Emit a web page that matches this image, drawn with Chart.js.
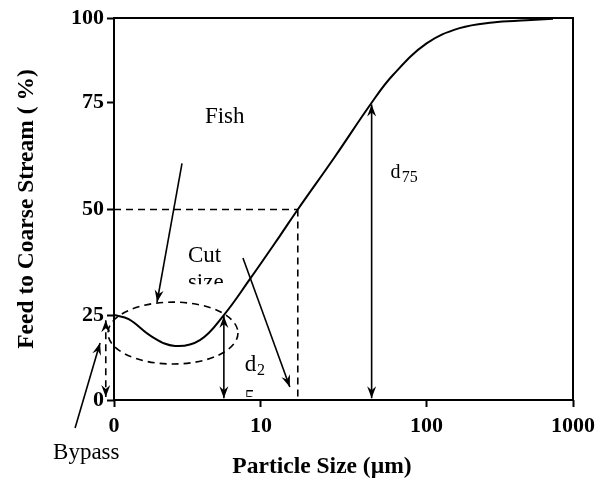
<!DOCTYPE html>
<html>
<head>
<meta charset="utf-8">
<script src="https://cdn.jsdelivr.net/npm/chart.js@4.4.0/dist/chart.umd.min.js"></script>
<style>
  html, body { margin: 0; padding: 0; background: #fff; }
</style>
</head>
<body>
<canvas id="c" width="608" height="483"></canvas>
<script>
// --- data ---
const sizes = [0, 1.0, 2.6, 4.15, 5.85, 7.48, 9.25, 13.0, 16.7, 27.9, 46.6, 62.5, 100, 168, 283, 483, 730];
const feed  = [25, 23.8, 18.6, 15.9, 17.6, 25, 33.5, 43.7, 50, 62.3, 75, 83.1, 92.5, 97.0, 98.7, 99.3, 99.8];

const xTickValues = [0, 10, 100, 1000];
const xTickLabels = ['0', '10', '100', '1000'];
const yTickValues = [0, 25, 50, 75, 100];

const xTitle = 'Particle Size (µm)';
const yTitle = 'Feed to Coarse Stream ( %)';

const cutSize = 16.7;   // d50
const d25 = 7.48;
const d75 = 46.6;

// the printed axes are not evenly spaced, so each axis is warped piecewise between its ticks
const axisWarp = {
  x: { knots: xTickValues, fracs: [0, 0.32, 0.681, 1], log: [false, true, true] },
  y: { knots: yTickValues, fracs: [0, 0.2223, 0.4988, 0.7782, 1], log: [false, false, false, false] }
};

function toFrac(w, v) {
  const k = w.knots, f = w.fracs;
  let i = 0;
  while (i < k.length - 2 && v > k[i + 1]) i++;
  const t = w.log[i] ? Math.log(v / k[i]) / Math.log(k[i + 1] / k[i]) : (v - k[i]) / (k[i + 1] - k[i]);
  return f[i] + t * (f[i + 1] - f[i]);
}
function fromFrac(w, d) {
  const k = w.knots, f = w.fracs;
  let i = 0;
  while (i < f.length - 2 && d > f[i + 1]) i++;
  const t = (d - f[i]) / (f[i + 1] - f[i]);
  return w.log[i] ? k[i] * Math.pow(k[i + 1] / k[i], t) : k[i] + t * (k[i + 1] - k[i]);
}

class WarpScale extends Chart.LinearScale {
  getPixelForValue(value) {
    if (value === null || value === undefined) return NaN;
    return this.getPixelForDecimal(toFrac(axisWarp[this.axis], value));
  }
  getValueForPixel(pixel) {
    return fromFrac(axisWarp[this.axis], this.getDecimalForPixel(pixel));
  }
}
WarpScale.id = 'warp';
WarpScale.defaults = Chart.LinearScale.defaults;
Chart.register(WarpScale);

const serif = '"Liberation Serif", "Times New Roman", serif';
const tickFont = { family: serif, size: 22, weight: 'bold' };

function head(ctx, x0, y0, x1, y1) {
  const a = Math.atan2(y1 - y0, x1 - x0);
  const len = 12, half = 4.5, notch = 4;
  const c = Math.cos(a), s = Math.sin(a);
  ctx.save();
  ctx.setLineDash([]);
  ctx.beginPath();
  ctx.moveTo(x1, y1);
  ctx.lineTo(x1 - len * c + half * s, y1 - len * s - half * c);
  ctx.lineTo(x1 - (len - notch) * c, y1 - (len - notch) * s);
  ctx.lineTo(x1 - len * c - half * s, y1 - len * s + half * c);
  ctx.closePath();
  ctx.fill();
  ctx.restore();
}

const annotations = {
  id: 'annotations',
  afterDraw(chart) {
    const { ctx, chartArea: a, scales: { x, y } } = chart;
    const px = v => x.getPixelForValue(v), py = v => y.getPixelForValue(v);
    ctx.save();
    ctx.strokeStyle = '#000';
    ctx.fillStyle = '#000';

    // frame
    ctx.lineWidth = 2;
    ctx.strokeRect(a.left, a.top, a.right - a.left, a.bottom - a.top);

    // axis titles (placed as printed, the x one sits left of centre)
    ctx.font = 'bold 23.5px ' + serif;
    ctx.textBaseline = 'alphabetic';
    ctx.textAlign = 'center';
    ctx.fillText(xTitle, 322, 473);
    ctx.save();
    ctx.translate(33, (a.top + a.bottom) / 2);
    ctx.rotate(-Math.PI / 2);
    ctx.fillText(yTitle, 0, 0);
    ctx.restore();

    const line = (x0, y0, x1, y1, dash, h0, h1) => {
      const X0 = px(x0), Y0 = py(y0), X1 = px(x1), Y1 = py(y1);
      ctx.save();
      ctx.lineWidth = 1.6;
      ctx.setLineDash(dash || []);
      ctx.beginPath();
      ctx.moveTo(X0, Y0);
      ctx.lineTo(X1, Y1);
      ctx.stroke();
      ctx.restore();
      if (h1) head(ctx, X0, Y0, X1, Y1);
      if (h0) head(ctx, X1, Y1, X0, Y0);
    };
    const dash = [7, 5];

    // cut size guide
    line(0, 50, cutSize, 50, dash);
    line(cutSize, 50, cutSize, 0, dash);

    // d25 and d75 double arrows
    line(d25, 24.7, d25, 0.5, null, true, true);
    line(d75, 74.6, d75, 0.5, null, true, true);

    // bypass dashed double arrow
    line(-0.56, 23.5, -0.56, 0.9, dash, true, true);

    // fish ellipse
    const ex0 = px(-0.41), ex1 = px(8.44), ey0 = py(28.07), ey1 = py(10.59);
    ctx.save();
    ctx.lineWidth = 1.6;
    ctx.setLineDash(dash);
    ctx.beginPath();
    ctx.ellipse((ex0 + ex1) / 2, (ey0 + ey1) / 2, (ex1 - ex0) / 2, (ey1 - ey0) / 2, 0, 0, Math.PI * 2);
    ctx.stroke();
    ctx.restore();

    // pointer arrows
    line(4.63, 60.8, 2.93, 28.1, null, false, true);
    line(8.78, 38.5, 14.95, 3.8, null, false, true);
    line(-2.65, -8.24, -0.95, 16.8, null, false, true);

    // labels
    const text = (s, xv, yv, size, clipY) => {
      ctx.save();
      if (clipY !== undefined) {
        ctx.beginPath();
        ctx.rect(0, 0, chart.width, py(clipY));
        ctx.clip();
      }
      ctx.font = size + 'px ' + serif;
      ctx.textAlign = 'left';
      ctx.textBaseline = 'alphabetic';
      ctx.fillText(s, px(xv), py(yv));
      ctx.restore();
    };
    text('Fish', 6.19, 70.2, 23);
    text('Cut', 5.03, 37.5, 23);
    text('size', 5.03, 31.1, 23, 32.3);
    text('Bypass', -4.15, -17.35, 23);
    text('d', 60.6, 57.3, 20);
    text('75', 70.7, 56.4, 16);
    text('d', 8.91, 8.53, 23);
    text('2', 9.73, 7.35, 16);
    text('5', 8.91, -1.18, 20, 0.88);

    ctx.restore();
  }
};

new Chart(document.getElementById('c'), {
  type: 'line',
  data: {
    datasets: [{
      data: sizes.map((s, i) => ({ x: s, y: feed[i] })),
      borderColor: '#000',
      borderWidth: 2,
      pointRadius: 0,
      fill: false,
      tension: 0.4
    }]
  },
  options: {
    responsive: false,
    animation: false,
    layout: { padding: { top: 18, right: 35, left: 0, bottom: 0 } },
    plugins: { legend: { display: false }, tooltip: { enabled: false } },
    scales: {
      x: {
        type: 'warp',
        min: 0,
        max: 1000,
        afterBuildTicks: s => { s.ticks = xTickValues.map(v => ({ value: v })); },
        afterFit: s => { s.height = 83; },
        grid: { drawOnChartArea: false, drawTicks: true, tickLength: 7, tickWidth: 2, tickColor: '#000' },
        border: { display: false },
        ticks: {
          autoSkip: false, maxRotation: 0, padding: 6, color: '#000', font: tickFont,
          callback: (v, i) => xTickLabels[i]
        }
      },
      y: {
        type: 'warp',
        min: 0,
        max: 100,
        afterBuildTicks: s => { s.ticks = yTickValues.map(v => ({ value: v })); },
        afterFit: s => { s.width = 114; },
        grid: { drawOnChartArea: false, drawTicks: true, tickLength: 7, tickWidth: 2, tickColor: '#000' },
        border: { display: false },
        ticks: { autoSkip: false, padding: 3, color: '#000', font: tickFont, callback: v => String(v) }
      }
    }
  },
  plugins: [annotations]
});
</script>
</body>
</html>
